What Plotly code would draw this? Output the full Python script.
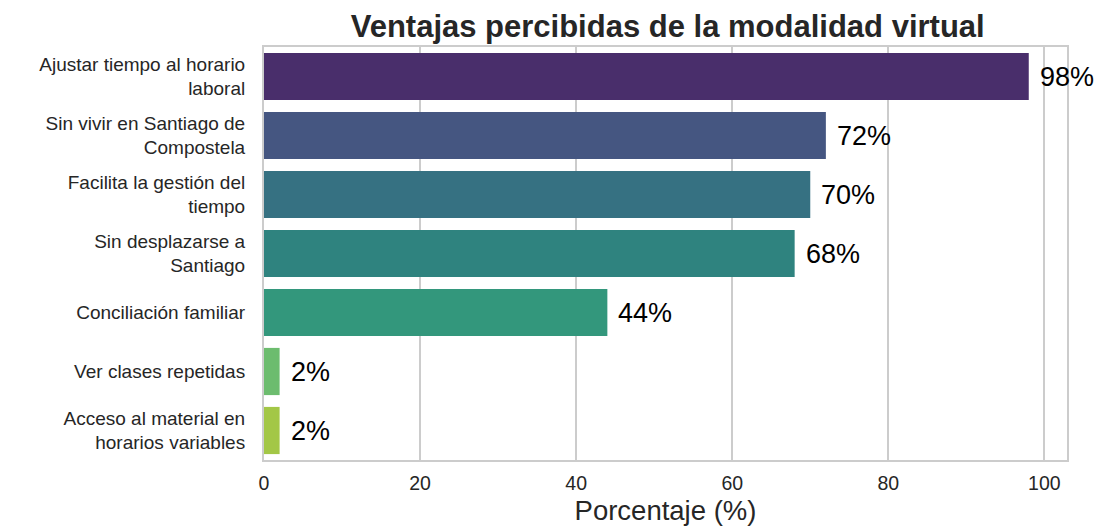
import colorsys
import plotly.graph_objects as go

categories = [
    "Ajustar tiempo al horario<br>laboral",
    "Sin vivir en Santiago de<br>Compostela",
    "Facilita la gestión del<br>tiempo",
    "Sin desplazarse a<br>Santiago",
    "Conciliación familiar",
    "Ver clases repetidas",
    "Acceso al material en<br>horarios variables",
]
values = [98, 72, 70, 68, 44, 2, 2]
value_labels = ["98%", "72%", "70%", "68%", "44%", "2%", "2%"]

# viridis samples (seaborn palette, 7 colours) desaturated like seaborn barplot
viridis = [
    (0.282327, 0.140926, 0.457517),
    (0.229739, 0.322361, 0.545706),
    (0.163625, 0.471133, 0.558148),
    (0.127568, 0.566949, 0.550556),
    (0.134692, 0.658636, 0.517649),
    (0.369214, 0.788888, 0.382914),
    (0.678489, 0.863742, 0.189503),
]


def desat(c, p=0.75):
    h, l, s = colorsys.rgb_to_hls(*c)
    r, g, b = colorsys.hls_to_rgb(h, l, s * p)
    return "rgb(%d,%d,%d)" % (round(r * 255), round(g * 255), round(b * 255))


colors = [desat(c) for c in viridis]
FONT = "Liberation Sans, Arial, sans-serif"

fig = go.Figure()
fig.add_trace(go.Bar(
    x=values, y=categories, orientation="h",
    marker=dict(color=colors, line=dict(width=0)),
    width=0.8, showlegend=False,
))

for v, c, t in zip(values, categories, value_labels):
    fig.add_annotation(x=v, y=c, text=t, showarrow=False, xanchor="left",
                       xshift=9, font=dict(size=27, color="black", family=FONT))

grid = "#cccccc"
fig.update_layout(
    width=1094, height=521,
    margin=dict(l=256, r=35, t=39, b=69),
    paper_bgcolor="white", plot_bgcolor="white",
    font=dict(family=FONT, color="#262626"),
    title=dict(text="<b>Ventajas percibidas de la modalidad virtual</b>",
               x=0.603, xanchor="center", y=0.965, yanchor="middle",
               font=dict(size=31, color="#262626")),
    bargap=0.2,
)
fig.update_xaxes(
    range=[0, 102.9], tickvals=[0, 20, 40, 60, 80, 100], automargin=False,
    showgrid=True, gridcolor=grid, gridwidth=1.5,
    showline=True, linecolor=grid, linewidth=2, mirror=True,
    zeroline=False, ticks="", tickfont=dict(size=19.5), ticklabelstandoff=5,
    title=dict(text="Porcentaje (%)", font=dict(size=27.5), standoff=7),
)
fig.update_yaxes(
    categoryorder="array", categoryarray=categories, autorange="reversed",
    automargin=False,
    showgrid=False, showline=True, linecolor=grid, linewidth=2, mirror=True,
    zeroline=False, ticks="", tickfont=dict(size=19), ticklabelstandoff=13,
)

fig.write_html("out.html")
